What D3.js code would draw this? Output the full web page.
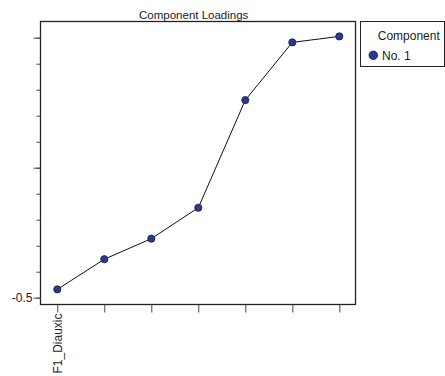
<!DOCTYPE html>
<html>
<head>
<meta charset="utf-8">
<script src="https://cdn.jsdelivr.net/npm/d3@7"></script>
<style>
  html, body { margin: 0; padding: 0; background: #fff; }
  svg { display: block; font-family: "Liberation Sans", Arial, sans-serif; }
</style>
</head>
<body>
<svg id="chart" width="445" height="376"></svg>
<script>
// Component loadings for component No. 1, one value per variable
const variableLabels = ["F1_Diauxic", "", "", "", "", "", ""];
const loadings = [-0.468, -0.352, -0.273, -0.154, 0.260, 0.482, 0.505];

// Vertical axis ticks: minor every 0.1, labelled majors every 0.5
const minorTicks = [-0.5, -0.4, -0.3, -0.2, -0.1, 0, 0.1, 0.2, 0.3, 0.4, 0.5];
const majorTicks = [-0.5, 0, 0.5];
const majorTickLabels = ["-0.5", "", ""];

const seriesName = "No. 1";
const legendTitle = "Component";
const chartTitle = "Component Loadings";

const svg = d3.select("#chart");

const frame = { left: 40.5, top: 21.5, right: 355.5, bottom: 304.5 };

const y = d3.scaleLinear()
  .domain([-0.5, 0.5])
  .range([297.7, 37.7]);

const x = d3.scalePoint()
  .domain(d3.range(loadings.length))
  .range([57.3, 339.3]);

// Plot frame
svg.append("rect")
  .attr("x", frame.left)
  .attr("y", frame.top)
  .attr("width", frame.right - frame.left)
  .attr("height", frame.bottom - frame.top)
  .attr("fill", "none")
  .attr("stroke", "#222")
  .attr("stroke-width", 1.3);

// Minor y ticks
const yMinor = svg.append("g")
  .attr("transform", `translate(${frame.left},0)`)
  .call(d3.axisLeft(y).tickValues(minorTicks).tickSize(4).tickFormat(() => ""));
yMinor.select(".domain").remove();
yMinor.selectAll("line").attr("stroke", "#444");

// Major y ticks with labels
const yMajor = svg.append("g")
  .attr("transform", `translate(${frame.left},0)`)
  .call(d3.axisLeft(y).tickValues(majorTicks).tickSize(7).tickPadding(1)
    .tickFormat((d, i) => majorTickLabels[i]));
yMajor.select(".domain").remove();
yMajor.selectAll("line").attr("stroke", "#444");
yMajor.selectAll("text")
  .attr("font-size", "12px")
  .attr("font-family", "Liberation Sans, Arial, sans-serif")
  .attr("fill", "#222");

// X ticks with rotated variable labels
const xAxis = svg.append("g")
  .attr("transform", `translate(0,${frame.bottom})`)
  .call(d3.axisBottom(x).tickSize(8).tickFormat(i => variableLabels[i]));
xAxis.select(".domain").remove();
xAxis.selectAll("line").attr("stroke", "#444");
xAxis.selectAll("text")
  .attr("font-size", "12px")
  .attr("font-family", "Liberation Sans, Arial, sans-serif")
  .attr("fill", "#222")
  .attr("text-anchor", "end")
  .attr("transform", "rotate(-90)")
  .attr("x", -9)
  .attr("y", 0)
  .attr("dx", 0)
  .attr("dy", "0.36em");

// Title
svg.append("text")
  .attr("x", 193.7)
  .attr("y", 19)
  .attr("text-anchor", "middle")
  .attr("font-size", "11.5px")
  .attr("fill", "#222")
  .text(chartTitle);

// Loading line and markers
const line = d3.line()
  .x((d, i) => x(i))
  .y(d => y(d));

svg.append("path")
  .datum(loadings)
  .attr("d", line)
  .attr("fill", "none")
  .attr("stroke", "#111")
  .attr("stroke-width", 1);

svg.append("g")
  .selectAll("circle")
  .data(loadings)
  .join("circle")
  .attr("cx", (d, i) => x(i))
  .attr("cy", d => y(d))
  .attr("r", 3.6)
  .attr("fill", "#2b3894")
  .attr("stroke", "#1a1a3a")
  .attr("stroke-width", 0.8);

// Legend
const legend = svg.append("g");
legend.append("rect")
  .attr("x", 360.5)
  .attr("y", 21.5)
  .attr("width", 84)
  .attr("height", 45)
  .attr("fill", "#fff")
  .attr("stroke", "#222")
  .attr("stroke-width", 1);
legend.append("text")
  .attr("x", 408.8)
  .attr("y", 39.5)
  .attr("text-anchor", "middle")
  .attr("font-size", "12px")
  .attr("fill", "#222")
  .text(legendTitle);
legend.append("circle")
  .attr("cx", 373.3)
  .attr("cy", 55.3)
  .attr("r", 4.3)
  .attr("fill", "#2b3894")
  .attr("stroke", "#1a1a3a")
  .attr("stroke-width", 0.8);
legend.append("text")
  .attr("x", 382)
  .attr("y", 59.8)
  .attr("font-size", "12px")
  .attr("fill", "#222")
  .text(seriesName);
</script>
</body>
</html>
